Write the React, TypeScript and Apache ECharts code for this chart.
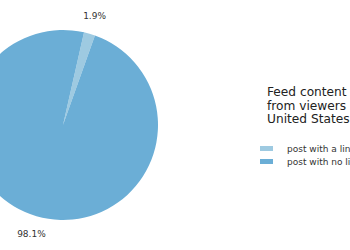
import React, { useEffect, useRef } from "react";
import * as echarts from "echarts";

const categories = ["post with a link", "post with no link"];
const values = [1.9, 98.1];
const colors = ["#9ecae1", "#6baed6"];
const titleLines = ["Feed content", "from viewers", "United States"];

export default function App() {
  const ref = useRef<HTMLDivElement>(null);
  useEffect(() => {
    if (!ref.current) return;
    const chart = echarts.init(ref.current, null, { renderer: "svg" });
    const data = categories.map((name, i) => ({
      name,
      value: values[i],
      itemStyle: { color: colors[i] },
    }));
    const font = "DejaVu Sans";
    chart.setOption({
      animation: false,
      backgroundColor: "#ffffff",
      title: {
        text: titleLines.join("\n"),
        left: 262,
        top: 80,
        textStyle: {
          fontFamily: font,
          fontSize: 12.2,
          lineHeight: 13.7,
          fontWeight: "normal",
          color: "#222222",
        },
      },
      legend: {
        orient: "vertical",
        left: 255,
        top: 139,
        itemWidth: 13,
        itemHeight: 5,
        itemGap: 4,
        icon: "rect",
        data: categories,
        textStyle: { fontFamily: font, fontSize: 9, color: "#333333", padding: [0, 0, 0, 9] },
        selectedMode: false,
      },
      series: [
        {
          type: "pie",
          center: [63, 125],
          radius: 95,
          startAngle: 77.2,
          clockwise: true,
          silent: true,
          data,
          label: { show: false },
          labelLine: { show: false },
          itemStyle: { borderWidth: 0 },
          emphasis: { disabled: true },
        },
        {
          type: "pie",
          center: [63, 125],
          radius: [102, 118],
          startAngle: 77.2,
          clockwise: true,
          silent: true,
          data: categories.map((name, i) => ({ name: name + " ", value: values[i] })),
          itemStyle: { color: "rgba(0,0,0,0)", borderWidth: 0 },
          label: {
            show: true,
            position: "inside",
            formatter: (p: any) => p.value.toFixed(1) + "%",
            fontFamily: font,
            fontSize: 9,
            color: "#333333",
          },
          labelLine: { show: false },
          emphasis: { disabled: true },
        },
      ],
    });
    return () => chart.dispose();
  }, []);
  return (
    <div
      ref={ref}
      style={{ position: "fixed", left: 0, top: 0, width: 350, height: 250 }}
    />
  );
}
